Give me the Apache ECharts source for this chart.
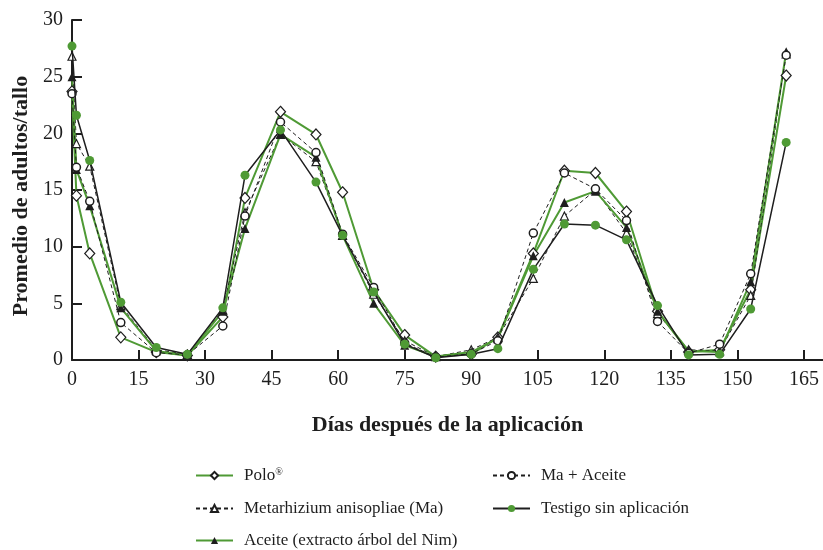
<!DOCTYPE html>
<html>
<head>
<meta charset="utf-8">
<script src="https://cdn.jsdelivr.net/npm/echarts@6/dist/echarts.min.js"></script>
<style>html,body{margin:0;padding:0;background:#fff;}#c{width:823px;height:550px;}</style>
</head>
<body>
<div id="c"></div>
<script>
const days = [0, 1, 4, 11, 19, 26, 34, 39, 47, 55, 61, 68, 75, 82, 90, 96, 104, 111, 118, 125, 132, 139, 146, 153, 161];
const polo      = [23.7, 14.5, 9.4, 2.0, 0.7, 0.4, 3.8, 14.3, 21.9, 19.9, 14.8, 6.2, 2.2, 0.3, 0.5, 2.0, 9.4, 16.7, 16.5, 13.1, 4.3, 0.7, 0.9, 6.2, 25.1];
const ma        = [26.8, 19.1, 17.1, 4.8, 0.9, 0.5, 4.4, 13.0, 19.9, 17.5, 11.0, 5.8, 1.7, 0.3, 0.9, 2.0, 7.2, 12.7, 15.0, 11.2, 4.1, 0.9, 0.8, 5.7, 27.0];
const aceite    = [25.0, 16.8, 13.6, 4.6, 0.8, 0.4, 4.3, 11.6, 19.9, 17.9, 11.0, 5.0, 1.3, 0.3, 0.7, 1.9, 9.2, 13.9, 14.9, 11.7, 4.3, 0.8, 0.7, 6.9, 27.2];
const maAceite  = [23.5, 17.0, 14.0, 3.3, 0.65, 0.45, 3.0, 12.7, 21.0, 18.3, 11.1, 6.4, 1.5, 0.25, 0.55, 1.7, 11.2, 16.5, 15.1, 12.3, 3.4, 0.6, 1.4, 7.6, 26.9];
const testigo   = [27.7, 21.6, 17.6, 5.1, 1.1, 0.5, 4.6, 16.3, 20.3, 15.7, 11.0, 6.0, 1.4, 0.2, 0.5, 1.0, 8.0, 12.0, 11.9, 10.6, 4.8, 0.45, 0.5, 4.5, 19.2];
const xTicks = [0, 15, 30, 45, 60, 75, 90, 105, 120, 135, 150, 165];
const names = ['Polo®', 'Metarhizium anisopliae (Ma)', 'Aceite (extracto árbol del Nim)', 'Ma + Aceite', 'Testigo sin aplicación'];

const GREEN = '#4f9a35';
const DARK = '#1e1e1e';
const FONT = 'Liberation Serif';
const pair = arr => days.map((d, i) => [d, arr[i]]);

const chart = echarts.init(document.getElementById('c'), null, {renderer: 'canvas'});
const legendText = {
  fontFamily: FONT, fontSize: 17, color: DARK, lineHeight: 16, padding: [0, 0, 0, 6],
  rich: { sup: { fontFamily: FONT, fontSize: 10, verticalAlign: 'top', lineHeight: 10, padding: [0, 0, 8, 0], color: DARK } }
};
const legendSlots = [
  { name: names[0], left: 195, top: 467 },
  { name: names[1], left: 195, top: 500 },
  { name: names[2], left: 195, top: 532 },
  { name: names[3], left: 492, top: 467 },
  { name: names[4], left: 492, top: 500 }
];
chart.setOption({
  animation: false,
  backgroundColor: '#fff',
  grid: { left: 72, right: 0, top: 20, bottom: 190, containLabel: false },
  xAxis: {
    type: 'value', min: 0, max: 169.3,
    name: 'Días después de la aplicación', nameLocation: 'middle', nameGap: 54,
    nameTextStyle: { fontFamily: FONT, fontSize: 22, fontWeight: 'bold', color: DARK },
    axisLine: { show: true, onZero: false, lineStyle: { color: DARK, width: 2 } },
    axisTick: { show: true, inside: true, length: 10, customValues: xTicks, lineStyle: { color: DARK, width: 2 } },
    axisLabel: { customValues: xTicks, fontFamily: FONT, fontSize: 20, color: DARK, margin: 10 },
    splitLine: { show: false }
  },
  yAxis: {
    type: 'value', min: 0, max: 30, interval: 5,
    name: 'Promedio de adultos/tallo', nameLocation: 'middle', nameGap: 35,
    nameTextStyle: { fontFamily: FONT, fontSize: 22, fontWeight: 'bold', color: DARK, padding: [0, 12, 0, 0] },
    axisLine: { show: true, lineStyle: { color: DARK, width: 2 } },
    axisTick: { show: true, inside: true, length: 10, lineStyle: { color: DARK, width: 2 } },
    axisLabel: { fontFamily: FONT, fontSize: 20, color: DARK, margin: 9 },
    splitLine: { show: false }
  },
  legend: legendSlots.map(s => ({
    orient: 'vertical', left: s.left, top: s.top, itemWidth: 37, itemHeight: 9, padding: 0,
    data: [s.name], textStyle: legendText, selectedMode: false,
    formatter: n => n === 'Polo®' ? 'Polo{sup|®}' : n
  })),
  series: [
    { name: names[0], type: 'line', data: pair(polo), symbol: 'diamond', symbolSize: [10, 11],
      lineStyle: { color: GREEN, width: 2 }, itemStyle: { color: '#fff', borderColor: DARK, borderWidth: 1.2 }, z: 3 },
    { name: names[1], type: 'line', data: pair(ma), symbol: 'triangle', symbolSize: 8,
      lineStyle: { color: DARK, width: 1, type: [4, 3] }, itemStyle: { color: '#fff', borderColor: DARK, borderWidth: 1.2 }, z: 3 },
    { name: names[2], type: 'line', data: pair(aceite), symbol: 'triangle', symbolSize: 9,
      lineStyle: { color: GREEN, width: 2 }, itemStyle: { color: DARK, borderWidth: 0 }, z: 3 },
    { name: names[3], type: 'line', data: pair(maAceite), symbol: 'circle', symbolSize: 8,
      lineStyle: { color: DARK, width: 1, type: [4, 3] }, itemStyle: { color: '#fff', borderColor: DARK, borderWidth: 1.5 }, z: 3 },
    { name: names[4], type: 'line', data: pair(testigo), symbol: 'circle', symbolSize: 9,
      lineStyle: { color: DARK, width: 1.5 }, itemStyle: { color: GREEN, borderWidth: 0 }, z: 4 }
  ]
});
</script>
</body>
</html>
